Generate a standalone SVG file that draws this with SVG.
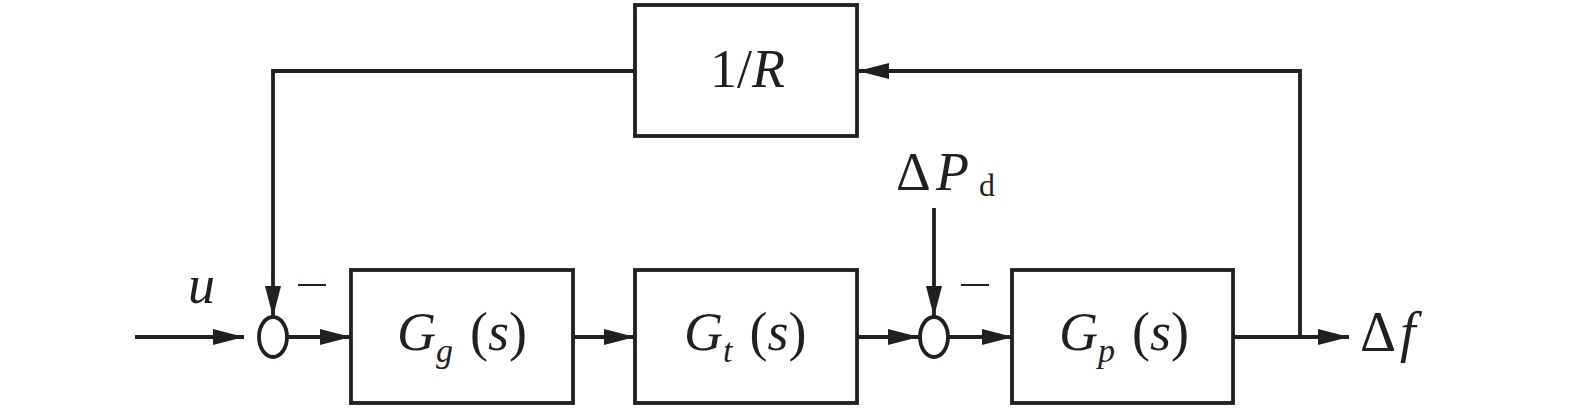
<svg xmlns="http://www.w3.org/2000/svg" width="1575" height="409" viewBox="0 0 1575 409">
<defs>
<marker id="arr" markerUnits="userSpaceOnUse" markerWidth="32" markerHeight="18" viewBox="0 0 32 18" refX="31" refY="9" orient="auto">
<path d="M0,1 L31,9 L0,17 Z" fill="#231f20"/>
</marker>
<style>
.box{fill:#fff;stroke:#231f20;stroke-width:3.8}
.ln{fill:none;stroke:#231f20;stroke-width:3.8}
.sum{fill:#fff;stroke:#231f20;stroke-width:3.8}
.t{font-family:"Liberation Serif","Times New Roman",serif;fill:#231f20}
.i{font-style:italic}
.minus{stroke:#231f20;stroke-width:2}
</style>
</defs>
<rect width="1575" height="409" fill="#fff"/>
<g id="connectors">
<path class="ln" d="M135,337 H244" marker-end="url(#arr)"/>
<path class="ln" d="M288,337 H351" marker-end="url(#arr)"/>
<path class="ln" d="M573,337 H635" marker-end="url(#arr)"/>
<path class="ln" d="M858,337 H919" marker-end="url(#arr)"/>
<path class="ln" d="M949,337 H1013" marker-end="url(#arr)"/>
<path class="ln" d="M1233,337 H1349" marker-end="url(#arr)"/>
<path class="ln" d="M1300,337 V71 H858" marker-end="url(#arr)"/>
<path class="ln" d="M635,71 H273 V317" marker-end="url(#arr)"/>
<path class="ln" d="M934,208 V317" marker-end="url(#arr)"/>
</g>
<g id="sum1">
<ellipse class="sum" cx="273" cy="337" rx="14" ry="20"/>
<line class="minus" x1="298" y1="285" x2="326" y2="285"/>
</g>
<g id="sum2">
<ellipse class="sum" cx="934" cy="337" rx="14" ry="20"/>
<line class="minus" x1="961" y1="285" x2="989" y2="285"/>
</g>
<g id="input">
<text class="t i" x="188" y="303" font-size="54">u</text>
</g>
<g id="disturbance">
<text class="t" x="896" y="190" font-size="54">Δ</text>
<text class="t i" x="936" y="190" font-size="54">P</text>
<text class="t" x="979" y="196" font-size="32">d</text>
</g>
<g id="output">
<text class="t" x="1360" y="351" font-size="56">Δ<tspan class="i" dx="4">f</tspan></text>
</g>
<g id="Gg">
<rect class="box" x="351" y="270" width="222" height="133"/>
<text class="t" x="397" y="350" font-size="54"><tspan class="i">G</tspan><tspan class="i" font-size="34" dy="12">g</tspan><tspan dy="-12" dx="17">(</tspan><tspan class="i">s</tspan>)</text>
</g>
<g id="Gt">
<rect class="box" x="635" y="270" width="222" height="133"/>
<text class="t" x="684" y="350" font-size="54"><tspan class="i">G</tspan><tspan class="i" font-size="34" dy="12">t</tspan><tspan dy="-12" dx="17">(</tspan><tspan class="i">s</tspan>)</text>
</g>
<g id="Gp">
<rect class="box" x="1012" y="270" width="221" height="133"/>
<text class="t" x="1059" y="350" font-size="54"><tspan class="i">G</tspan><tspan class="i" font-size="34" dy="12">p</tspan><tspan dy="-12" dx="17">(</tspan><tspan class="i">s</tspan>)</text>
</g>
<g id="R">
<rect class="box" x="635" y="5" width="222" height="131"/>
<text class="t" x="710" y="87" font-size="54">1/<tspan class="i">R</tspan></text>
</g>
</svg>
